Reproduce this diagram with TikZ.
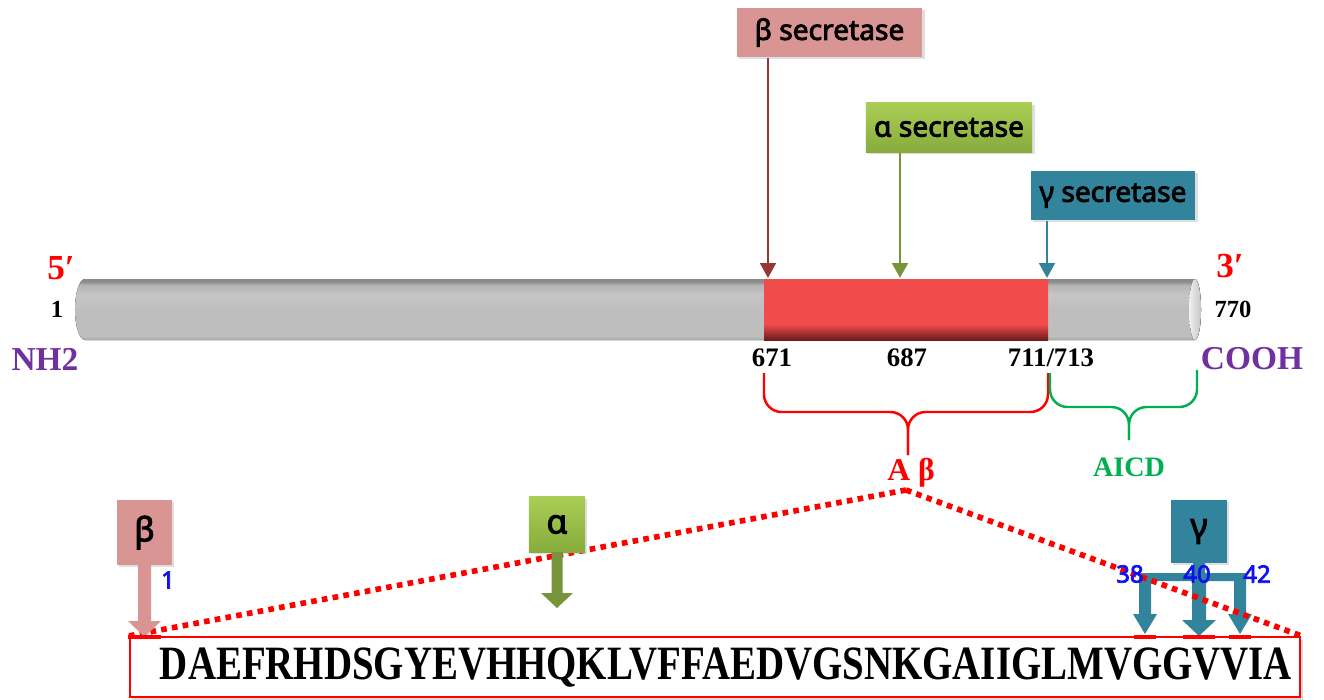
\documentclass[tikz,border=0pt]{standalone}
\usepackage{fontspec}
\setmainfont{Liberation Serif}
\newfontfamily\labsans{Noto Sans}[BoldFont={Noto Sans}, BoldFeatures={FakeBold=3}]
\usetikzlibrary{arrows.meta,shadows}
\definecolor{bpink}{HTML}{D99594}
\definecolor{bdark}{HTML}{953735}
\definecolor{agreenL}{HTML}{A9CD55}
\definecolor{agreenD}{HTML}{88AC3C}
\definecolor{adark}{HTML}{77933C}
\definecolor{gteal}{HTML}{31849B}
\definecolor{npurple}{HTML}{7030A0}
\definecolor{aicdgreen}{HTML}{00B050}
\definecolor{bblue}{HTML}{1010F0}
\definecolor{g1}{HTML}{8A8A8A}
\definecolor{g2}{HTML}{A4A4A4}
\definecolor{g3}{HTML}{BEBEBE}
\definecolor{g4}{HTML}{C6C6C6}
\definecolor{g5}{HTML}{B4B4B4}
\definecolor{r1}{HTML}{6E1C1C}
\definecolor{r2}{HTML}{A83030}
\definecolor{r3}{HTML}{F24B4B}
\definecolor{r4}{HTML}{E55050}
\pgfdeclareverticalshading{greybar}{100bp}{color(0bp)=(g2); color(25bp)=(g2); color(28bp)=(g3); color(50bp)=(g3); color(62bp)=(g4); color(70bp)=(g5); color(73bp)=(g1); color(75bp)=(g1); color(100bp)=(g1)}
\pgfdeclareverticalshading{redbar}{100bp}{color(0bp)=(r1); color(25bp)=(r1); color(31bp)=(r2); color(38bp)=(r3); color(73bp)=(r3); color(75bp)=(r4); color(100bp)=(r4)}
\tikzset{
  sec/.style={inner sep=0pt, font=\labsans\bfseries\fontsize{8}{9}\selectfont,
    drop shadow={opacity=0.25, shadow xshift=0.7pt, shadow yshift=-0.7pt}},
  small/.style={inner sep=0pt, font=\labsans\bfseries\fontsize{9.5}{10}\selectfont,
    drop shadow={opacity=0.25, shadow xshift=0.7pt, shadow yshift=-0.7pt}},
  cut/.style={line width=0.8pt, -{Triangle[width=4.4pt,length=4.2pt]}},
  num/.style={inner sep=0pt, font=\bfseries\fontsize{7.6}{8}\selectfont},
  term/.style={inner sep=0pt, font=\bfseries\fontsize{9.5}{10}\selectfont, npurple},
  prime/.style={inner sep=0pt, font=\bfseries\fontsize{10}{10}\selectfont, red},
  brace/.style={line width=0.7pt, rounded corners=5},
  dotline/.style={red, line width=1.6pt, dash pattern=on 1.6pt off 1.5pt},
  bnum/.style={inner sep=0pt, bblue, font=\labsans\bfseries\fontsize{6.8}{7}\selectfont},
}
\begin{document}
\begin{tikzpicture}[x=0.01cm,y=-0.01cm]
\useasboundingbox (0,0) rectangle (1324,700);

% ---- APP bar
\fill[shading=greybar] (85,279) -- (1195,279)
  arc[start angle=90, end angle=-90, x radius=0.06cm, y radius=0.305cm]
  -- (85,340)
  arc[start angle=270, end angle=90, x radius=0.1cm, y radius=0.305cm] -- cycle;
\fill[left color=gray!12, right color=gray!45] (1195,309.5) ellipse[x radius=0.06cm, y radius=0.305cm];
\fill[shading=redbar] (764,279) rectangle (1048,340);
\coordinate (c671) at (768,278);
\coordinate (c687) at (900,278);
\coordinate (c711) at (1047,278);

% ---- secretase boxes
\node[sec, fill=bpink, minimum width=1.85cm, minimum height=0.49cm] (bsec) at (829.5,32.5) {β secretase};
\node[sec, top color=agreenL, bottom color=agreenD, minimum width=1.66cm, minimum height=0.49cm] (asec) at (949,127.5) {α secretase};
\node[sec, fill=gteal, minimum width=1.64cm, minimum height=0.49cm] (gsec) at (1113,195.5) {γ secretase};
\draw[cut, bdark] (bsec.south -| c671) -- (c671);
\draw[cut, adark] (asec.south -| c687) -- (c687);
\draw[cut, gteal] (gsec.south -| c711) -- (c711);

% ---- labels around bar
\node[prime] (p5) at (61,268) {5\char"2032};
\node[prime] (p3) at (1230,266) {3\char"2032};
\node[inner sep=0pt, font=\bfseries\fontsize{7}{8}\selectfont] (n1) at (57,309) {1};
\node[inner sep=0pt, font=\bfseries\fontsize{7}{8}\selectfont] (n770) at (1233,309) {770};
\node[term] (nh2) at (45,359) {NH2};
\node[term] (cooh) at (1252,359) {COOH};
\node[num] (l671) at (772,358) {671};
\node[num] (l687) at (907,358) {687};
\node[num] (l711) at (1051,358) {711/713};

% ---- braces
\draw[brace, red] (764,373) -- (764,412) -- (908,412) -- (908,455);
\draw[brace, red] (908,455) -- (908,412) -- (1048,412) -- (1048,373);
\draw[brace, aicdgreen] (1050,373) -- (1050,407) -- (1129,407) -- (1129,440);
\draw[brace, aicdgreen] (1129,440) -- (1129,407) -- (1197,407) -- (1197,370);
\node[inner sep=0pt, red, font=\bfseries\fontsize{9}{10}\selectfont] (abeta) at (911,473) {A β};
\node[inner sep=0pt, aicdgreen, font=\bfseries\fontsize{8}{9}\selectfont] (aicd) at (1129,467) {AICD};
\coordinate (apex) at (906,490);

% ---- sequence box
\node[draw=red, line width=0.6pt, fill=white, minimum width=11.7cm, minimum height=0.6cm, inner sep=0pt,
  drop shadow={opacity=0.3, shadow xshift=0.8pt, shadow yshift=-0.8pt}] (seq) at (715,667) {};
\node[inner sep=0pt, font=\bfseries\fontsize{13.6}{14}\selectfont] (seqtext) at (726,668)
  {\scalebox{0.813}[1]{DAEFRHDSGYEVHHQKLVFFAEDVGSNKGAIIGLMVGGVVIA}};

\draw[dotline] (apex) -- (seq.north west);

% ---- beta small arrow
\node[small, fill=bpink, minimum width=0.55cm, minimum height=0.65cm] (sb) at (144.5,532.5) {β};
\fill[bpink] (138,565) -- (138,621) -- (128,621) -- (144.5,637) -- (161,621) -- (151,621) -- (151,565) -- cycle;
\node[bnum] (cut1) at (168,580) {1};

% ---- alpha small arrow
\node[small, top color=agreenL, bottom color=agreenD, minimum width=0.56cm, minimum height=0.55cm] (sa) at (557,524.5) {α};
\fill[adark] (551.5,552) -- (551.5,593) -- (541,593) -- (557,608) -- (573,593) -- (562.5,593) -- (562.5,552) -- cycle;

% ---- gamma small arrows
\node[small, fill=gteal, minimum width=0.56cm, minimum height=0.63cm] (sg) at (1199,531.5) {γ};
\fill[gteal] (1193,563) -- (1193,573) -- (1139,573) -- (1139,614) -- (1133,614) -- (1145,634) -- (1157,614) -- (1151,614)
  -- (1151,581) -- (1192,581) -- (1192,620) -- (1182,620) -- (1199,636) -- (1216,620) -- (1206,620) -- (1206,581)
  -- (1234,581) -- (1234,614) -- (1228,614) -- (1240,634) -- (1252,614) -- (1246,614) -- (1246,573)
  -- (1205,573) -- (1205,563) -- cycle;
\draw[red, line width=1pt] (128,637) -- (161,637) (1134,637) -- (1156,637) (1183,637) -- (1215,637) (1229,637) -- (1251,637);

\draw[dotline] (apex) -- (seq.north east);
\node[bnum] (cut38) at (1130,574) {38};
\node[bnum] (cut40) at (1197,574) {40};
\node[bnum] (cut42) at (1257,574) {42};
\end{tikzpicture}
\end{document}
